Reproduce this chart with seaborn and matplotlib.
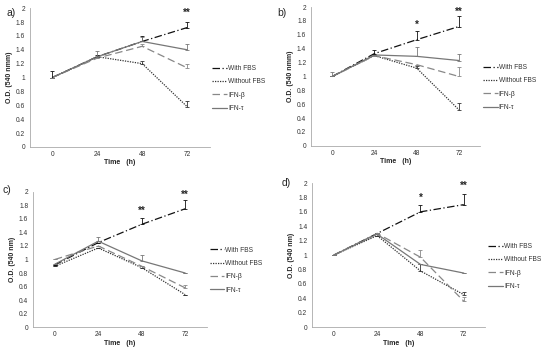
import pandas as pd
import seaborn as sns
import matplotlib.pyplot as plt

times = ['0', '24', '48', '72']
series = ['With FBS', 'Without FBS', 'IFN-β', 'IFN-τ']

# mean O.D. per series (order as in series), and upper error bar size
means_a = [[1.0, 1.3, 1.52, 1.72], [1.0, 1.3, 1.2, 0.58], [1.0, 1.28, 1.45, 1.14], [1.0, 1.3, 1.52, 1.4]]
errs_a = [[0.1, 0.03, 0.08, 0.08], [0, 0, 0.04, 0.08], [0, 0, 0.04, 0.06], [0, 0.08, 0.06, 0.08]]
means_b = [[1.0, 1.33, 1.53, 1.72], [1.0, 1.3, 1.12, 0.52], [1.0, 1.3, 1.17, 1.0], [1.0, 1.31, 1.29, 1.23]]
errs_b = [[0, 0.05, 0.12, 0.15], [0, 0, 0.03, 0.1], [0, 0, 0, 0.13], [0.07, 0, 0.14, 0.1]]
means_c = [[0.92, 1.25, 1.52, 1.75], [0.9, 1.17, 0.88, 0.48], [1.0, 1.2, 0.9, 0.58], [0.93, 1.27, 0.98, 0.8]]
errs_c = [[0, 0, 0.1, 0.13], [0, 0, 0, 0], [0, 0, 0, 0.04], [0, 0.06, 0.09, 0]]
means_d = [[1.0, 1.3, 1.6, 1.7], [1.0, 1.27, 0.78, 0.45], [1.0, 1.3, 0.97, 0.36], [1.0, 1.29, 0.87, 0.75]]
errs_d = [[0, 0, 0.1, 0.15], [0, 0, 0.1, 0.04], [0, 0, 0.1, 0.06], [0, 0, 0, 0]]

# significance marks: (time index, text, y)
stars_a = [(3, '**', 1.93)]
stars_b = [(2, '*', 1.75), (3, '**', 1.93)]
stars_c = [(2, '**', 1.72), (3, '**', 1.96)]
stars_d = [(2, '*', 1.8), (3, '**', 1.96)]

ylabels = ['O.D. (540 nmm)', 'O.D. (540 nmm)', 'O.D. (540 nm)', 'O.D. (540 nm)']
tags = ['a)', 'b)', 'c)', 'd)']

sns.set_style('white')
plt.rcParams['font.family'] = ['Liberation Sans', 'DejaVu Sans']

colors = ['#111111', '#333333', '#888888', '#777777']
dashes = [(6, 2, 1, 2), (1, 1), (6, 3), '']
styles = [(0, (6, 2, 1, 2)), (0, (1, 1)), (0, (6, 3)), '-']

fig = plt.figure(figsize=(5.43, 3.54), dpi=100)
boxes = [
    [0.055, 0.585, 0.331, 0.392],
    [0.573, 0.588, 0.311, 0.392],
    [0.061, 0.076, 0.320, 0.382],
    [0.575, 0.076, 0.319, 0.407],
]
tag_pos = [(0.012, 0.955), (0.51, 0.955), (0.005, 0.455), (0.518, 0.475)]

panels = [(means_a, errs_a, stars_a), (means_b, errs_b, stars_b),
          (means_c, errs_c, stars_c), (means_d, errs_d, stars_d)]

for k, (means, errs, stars) in enumerate(panels):
    ax = fig.add_axes(boxes[k])
    rows = []
    for s, name in enumerate(series):
        for i, t in enumerate(times):
            rows.append({'x': i, 'OD': means[s][i], 'err': errs[s][i], 'series': name})
    df = pd.DataFrame(rows)
    sns.lineplot(data=df, x='x', y='OD', hue='series', style='series',
                 palette=dict(zip(series, colors)), dashes=dict(zip(series, dashes)),
                 linewidth=0.9, ax=ax, legend=False)
    for s, name in enumerate(series):
        d = df[df['series'] == name]
        ax.errorbar(d['x'], d['OD'], yerr=[[0] * 4, d['err']], fmt='none',
                    ecolor=colors[s], elinewidth=0.6, capsize=1.5, capthick=0.6)
    for i, txt, y in stars:
        ax.text(i, y, txt, ha='center', va='center', fontsize=7, fontweight='bold')
    handles = [plt.Line2D([], [], color=colors[s], linestyle=styles[s], linewidth=0.9)
               for s in range(4)]
    ax.legend(handles, series, loc='center left', bbox_to_anchor=(0.99, 0.42),
              frameon=False, fontsize=4.8, handlelength=2.2, handletextpad=0.15,
              labelspacing=0.95, labelcolor='#333333', borderpad=0.2)
    ax.set_xlim(-0.5, 3.5)
    ax.set_ylim(0, 2)
    ax.set_xticks(range(4))
    ax.set_xticklabels(times)
    ax.set_yticks([i / 5 for i in range(11)])
    ax.set_yticklabels(['0', '0.2', '0.4', '0.6', '0.8', '1', '1.2', '1.4', '1.6', '1.8', '2'])
    ax.tick_params(axis='both', labelsize=4.8, colors='#333333', length=0, pad=3)
    ax.tick_params(axis='y', length=1.5, color='#999999', width=0.5, pad=2)
    for side in ['top', 'right']:
        ax.spines[side].set_visible(False)
    for side in ['left', 'bottom']:
        ax.spines[side].set_color('#aaaaaa')
        ax.spines[side].set_linewidth(0.6)
    ax.set_xlabel('Time   (h)', fontsize=5, fontweight='bold', labelpad=1)
    ax.set_ylabel(ylabels[k], fontsize=5, fontweight='bold', labelpad=2)
    fig.text(tag_pos[k][0], tag_pos[k][1], tags[k], fontsize=7.5)

plt.savefig('out.png', dpi=100)
